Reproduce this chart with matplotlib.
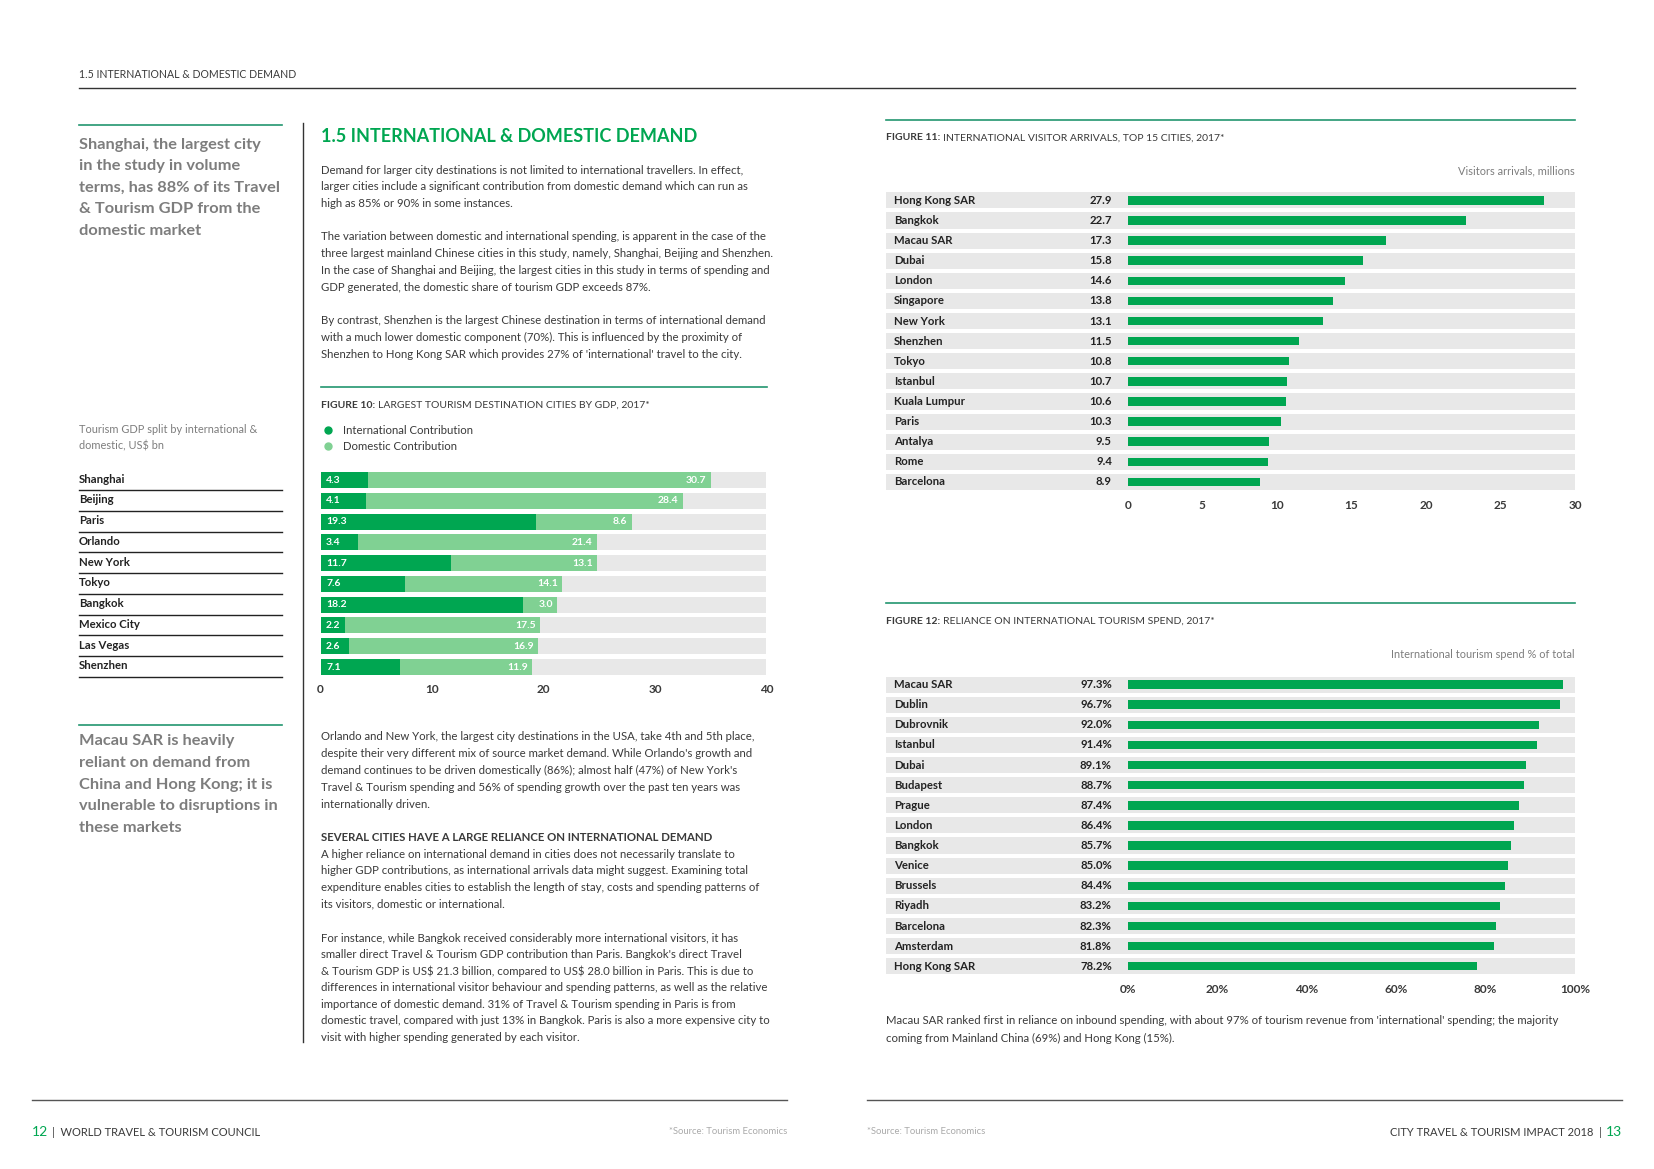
import matplotlib
matplotlib.use("Agg")
import matplotlib.pyplot as plt
from matplotlib.lines import Line2D
from matplotlib.text import Annotation
import matplotlib.transforms as mtransforms

plt.rcParams['font.family'] = ['Lato', 'DejaVu Sans']

# ---- data ----
gdp_cities = ['Shanghai', 'Beijing', 'Paris', 'Orlando', 'New York', 'Tokyo',
              'Bangkok', 'Mexico City', 'Las Vegas', 'Shenzhen']
gdp_intl = [4.3, 4.1, 19.3, 3.4, 11.7, 7.6, 18.2, 2.2, 2.6, 7.1]
gdp_dom = [30.7, 28.4, 8.6, 21.4, 13.1, 14.1, 3.0, 17.5, 16.9, 11.9]
gdp_ticks = [0, 10, 20, 30, 40]

arr_cities = ['Hong Kong SAR', 'Bangkok', 'Macau SAR', 'Dubai', 'London', 'Singapore',
              'New York', 'Shenzhen', 'Tokyo', 'Istanbul', 'Kuala Lumpur', 'Paris',
              'Antalya', 'Rome', 'Barcelona']
arr_values = [27.9, 22.7, 17.3, 15.8, 14.6, 13.8, 13.1, 11.5, 10.8, 10.7, 10.6, 10.3,
              9.5, 9.4, 8.9]
arr_ticks = [0, 5, 10, 15, 20, 25, 30]

rel_cities = ['Macau SAR', 'Dublin', 'Dubrovnik', 'Istanbul', 'Dubai', 'Budapest',
              'Prague', 'London', 'Bangkok', 'Venice', 'Brussels', 'Riyadh',
              'Barcelona', 'Amsterdam', 'Hong Kong SAR']
rel_values = [97.3, 96.7, 92.0, 91.4, 89.1, 88.7, 87.4, 86.4, 85.7, 85.0, 84.4, 83.2,
              82.3, 81.8, 78.2]
rel_ticks = [0, 20, 40, 60, 80, 100]

# ---- styles ----
DARK = '#00a651'
LIGHT = '#80d193'
GREY_BG = '#e8e8e8'
TEAL = '#23966f'
TXT = '#3a3a3a'
GREYTXT = '#7d7d7d'
BODY = 8.2

W, H = 1654, 1169
fig = plt.figure(figsize=(W / 100, H / 100), dpi=100)


def fx(x):
    return x / W


def fy(y):
    return 1 - y / H


def T(x, y, s, **kw):
    kw.setdefault('va', 'center')
    kw.setdefault('color', TXT)
    kw.setdefault('fontsize', BODY)
    return fig.text(fx(x), fy(y), s, **kw)


def after(t, s, dx=2, ha='left', **kw):
    # text placed next to another text artist
    xy = (1, 0.5) if ha == 'left' else (0, 0.5)
    a = Annotation(s, xy=xy, xycoords=t, xytext=(dx, 0), textcoords='offset points',
                   va='center', ha=ha, annotation_clip=False, **kw)
    fig.add_artist(a)
    return a


def hline(x0, x1, y, color=TXT, lw=1.0):
    fig.add_artist(Line2D([fx(x0), fx(x1)], [fy(y), fy(y)], transform=fig.transFigure,
                          color=color, lw=lw))


def vline(x, y0, y1, color=TXT, lw=1.0):
    fig.add_artist(Line2D([fx(x), fx(x)], [fy(y0), fy(y1)], transform=fig.transFigure,
                          color=color, lw=lw))


def axes_px(x0, y0, x1, y1):
    return fig.add_axes([fx(x0), fy(y1), (x1 - x0) / W, (y1 - y0) / H])


def fig_title(x, y, bold, rest):
    t = T(x, y, bold, fontweight='bold', fontsize=7.5)
    after(t, rest, fontsize=7.5, color=TXT)


def para(x, y0, lines, step=16.8):
    for i, line in enumerate(lines):
        T(x, y0 + i * step, line)


# ---- header ----
T(79, 75, '1.5 INTERNATIONAL & DOMESTIC DEMAND', fontsize=7.6)
hline(79, 1575, 87.5, color='#333333', lw=1.0)

# ---- left column ----
hline(79, 282, 124.5, color=TEAL, lw=1.2)
quote1 = ['Shanghai, the largest city', 'in the study in volume',
          'terms, has 88% of its Travel', '& Tourism GDP from the', 'domestic market']
for i, line in enumerate(quote1):
    T(79, 145 + i * 21.4, line, fontsize=11.8, fontweight='bold', color=GREYTXT)

T(79, 430, 'Tourism GDP split by international &', fontsize=7.9, color=GREYTXT)
T(79, 445.5, 'domestic, US\\$ bn', fontsize=7.9, color=GREYTXT)

hline(79, 282, 724.6, color=TEAL, lw=1.2)
quote2 = ['Macau SAR is heavily', 'reliant on demand from', 'China and Hong Kong; it is',
          'vulnerable to disruptions in', 'these markets']
for i, line in enumerate(quote2):
    T(79, 741.5 + i * 21.6, line, fontsize=11.8, fontweight='bold', color=GREYTXT)

vline(303, 123, 1042, color='#333333', lw=1.0)

# ---- middle column text ----
T(321, 136, '1.5 INTERNATIONAL & DOMESTIC DEMAND', fontsize=13, fontweight='bold',
  color=DARK)

para(321, 170, ['Demand for larger city destinations is not limited to international travellers. In effect,',
                'larger cities include a significant contribution from domestic demand which can run as',
                'high as 85% or 90% in some instances.'])
para(321, 237, ['The variation between domestic and international spending, is apparent in the case of the',
                'three largest mainland Chinese cities in this study, namely, Shanghai, Beijing and Shenzhen.',
                'In the case of Shanghai and Beijing, the largest cities in this study in terms of spending and',
                'GDP generated, the domestic share of tourism GDP exceeds 87%.'])
para(321, 321, ['By contrast, Shenzhen is the largest Chinese destination in terms of international demand',
                'with a much lower domestic component (70%). This is influenced by the proximity of',
                "Shenzhen to Hong Kong SAR which provides 27% of 'international' travel to the city."])

hline(321, 767, 387, color=TEAL, lw=1.2)
fig_title(321, 405, 'FIGURE 10:', 'LARGEST TOURISM DESTINATION CITIES BY GDP, 2017*')

fig.add_artist(Line2D([fx(328)], [fy(430.4)], marker='o', ms=5, color=DARK,
                      transform=fig.transFigure, lw=0))
fig.add_artist(Line2D([fx(328)], [fy(446)], marker='o', ms=5, color=LIGHT,
                      transform=fig.transFigure, lw=0))
T(343, 430.4, 'International Contribution')
T(343, 446, 'Domestic Contribution')

para(321, 737, ['Orlando and New York, the largest city destinations in the USA, take 4th and 5th place,',
                "despite their very different mix of source market demand. While Orlando's growth and",
                "demand continues to be driven domestically (86%); almost half (47%) of New York's",
                'Travel & Tourism spending and 56% of spending growth over the past ten years was',
                'internationally driven.'])
T(321, 837.5, 'SEVERAL CITIES HAVE A LARGE RELIANCE ON INTERNATIONAL DEMAND', fontweight='bold')
para(321, 854, ['A higher reliance on international demand in cities does not necessarily translate to',
                'higher GDP contributions, as international arrivals data might suggest. Examining total',
                'expenditure enables cities to establish the length of stay, costs and spending patterns of',
                'its visitors, domestic or international.'])
para(321, 938, ['For instance, while Bangkok received considerably more international visitors, it has',
                "smaller direct Travel & Tourism GDP contribution than Paris. Bangkok's direct Travel",
                '& Tourism GDP is US\\$ 21.3 billion, compared to US\\$ 28.0 billion in Paris. This is due to',
                'differences in international visitor behaviour and spending patterns, as well as the relative',
                'importance of domestic demand. 31% of Travel & Tourism spending in Paris is from',
                'domestic travel, compared with just 13% in Bangkok. Paris is also a more expensive city to',
                'visit with higher spending generated by each visitor.'], step=16.6)

# ---- figure 10 chart ----
ax10 = axes_px(320.5, 469.7, 766.4, 677.4)
rows = list(range(len(gdp_cities)))
ax10.barh(rows, [gdp_ticks[-1]] * len(rows), height=0.77, color=GREY_BG)
ax10.barh(rows, gdp_intl, height=0.77, color=DARK)
ax10.barh(rows, gdp_dom, left=gdp_intl, height=0.77, color=LIGHT)
for i in rows:
    ax10.annotate(f'{gdp_intl[i]:.1f}', xy=(0, i), xytext=(4, 0), textcoords='offset points',
                  va='center', ha='left', color='white', fontsize=7.5, fontweight='bold')
    ax10.annotate(f'{gdp_dom[i]:.1f}', xy=(gdp_intl[i] + gdp_dom[i], i), xytext=(-3, 0),
                  textcoords='offset points', va='center', ha='right', color='white',
                  fontsize=7.5, fontweight='bold')
ax10.set_xlim(0, 40)
ax10.set_ylim(len(rows) - 0.5, -0.5)
ax10.set_xticks(gdp_ticks)
ax10.set_xticklabels([str(t) for t in gdp_ticks], fontweight='bold', fontsize=8.5, color=TXT)
ax10.set_yticks([])
ax10.tick_params(axis='x', length=0, pad=5)
for s in ax10.spines.values():
    s.set_visible(False)

# city names with rules in left column
lbl = mtransforms.blended_transform_factory(fig.transFigure, ax10.transData)
for i, c in enumerate(gdp_cities):
    fig.text(fx(79), i - 0.05, c, transform=lbl, va='center', ha='left', fontsize=8.2,
             fontweight='bold', color='#222222')
    fig.add_artist(Line2D([fx(79), fx(282)], [i + 0.48, i + 0.48], transform=lbl,
                          color='#222222', lw=1.0))

# ---- figure 11 ----
hline(886, 1575, 120, color=TEAL, lw=1.2)
fig_title(886, 138, 'FIGURE 11:', 'INTERNATIONAL VISITOR ARRIVALS, TOP 15 CITIES, 2017*')
T(1575, 171, 'Visitors arrivals, millions', ha='right', color=GREYTXT, fontsize=7.9)


def bar_panel(top, bottom, cities, values, ticks, xmax, fmt, tickfmt):
    ax = axes_px(886, top, 1575, bottom)
    unit = (1574.8 - 1127.6) / xmax
    xmin = -(1127.6 - 886) / unit
    for i in range(len(cities)):
        ax.axhspan(i - 0.4, i + 0.4, color=GREY_BG, lw=0)
    ax.barh(range(len(cities)), values, height=0.42, color=DARK)
    tr = mtransforms.blended_transform_factory(ax.transAxes, ax.transData)
    for i, (c, v) in enumerate(zip(cities, values)):
        ax.text((894 - 886) / 689, i, c, transform=tr, va='center', ha='left',
                fontsize=8.2, fontweight='bold', color='#222222')
        ax.text((1112 - 886) / 689, i, fmt(v), transform=tr, va='center', ha='right',
                fontsize=8.2, fontweight='bold', color='#222222')
    ax.set_xlim(xmin, xmax)
    ax.set_ylim(len(cities) - 0.5, -0.5)
    ax.set_xticks(ticks)
    ax.set_xticklabels([tickfmt(t) for t in ticks], fontweight='bold', fontsize=8.5,
                       color=TXT)
    ax.set_yticks([])
    ax.tick_params(axis='x', length=0, pad=5.5)
    for s in ax.spines.values():
        s.set_visible(False)
    return ax


bar_panel(190.3, 492, arr_cities, arr_values, arr_ticks, 30,
          lambda v: f'{v:.1f}', lambda t: str(t))

# ---- figure 12 ----
hline(886, 1575, 603, color=TEAL, lw=1.2)
fig_title(886, 621, 'FIGURE 12:', 'RELIANCE ON INTERNATIONAL TOURISM SPEND, 2017*')
T(1575, 655, 'International tourism spend % of total', ha='right', color=GREYTXT,
  fontsize=7.9)
bar_panel(674.5, 976.3, rel_cities, rel_values, rel_ticks, 100,
          lambda v: f'{v:.1f}%', lambda t: f'{t}%')

T(886, 1021, "Macau SAR ranked first in reliance on inbound spending, with about 97% of tourism "
  "revenue from 'international' spending; the majority")
T(886, 1038, 'coming from Mainland China (69%) and Hong Kong (15%).')

# ---- footers ----
hline(32, 787, 1100, color='#555555', lw=1.0)
hline(867, 1622, 1100, color='#555555', lw=1.0)
t12 = T(32, 1132, '12', fontsize=10, color=DARK)
after(t12, '|  WORLD TRAVEL & TOURISM COUNCIL', dx=3, fontsize=8, color=TXT)
T(787, 1132, '*Source: Tourism Economics', ha='right', fontsize=6.8, color='#aaaaaa')
T(867, 1132, '*Source: Tourism Economics', ha='left', fontsize=6.8, color='#aaaaaa')
t13 = T(1622, 1132, '13', ha='right', fontsize=10, color=DARK)
after(t13, 'CITY TRAVEL & TOURISM IMPACT 2018  |', dx=-3, ha='right', fontsize=8, color=TXT)

fig.savefig('out.png', dpi=100, facecolor='white')
